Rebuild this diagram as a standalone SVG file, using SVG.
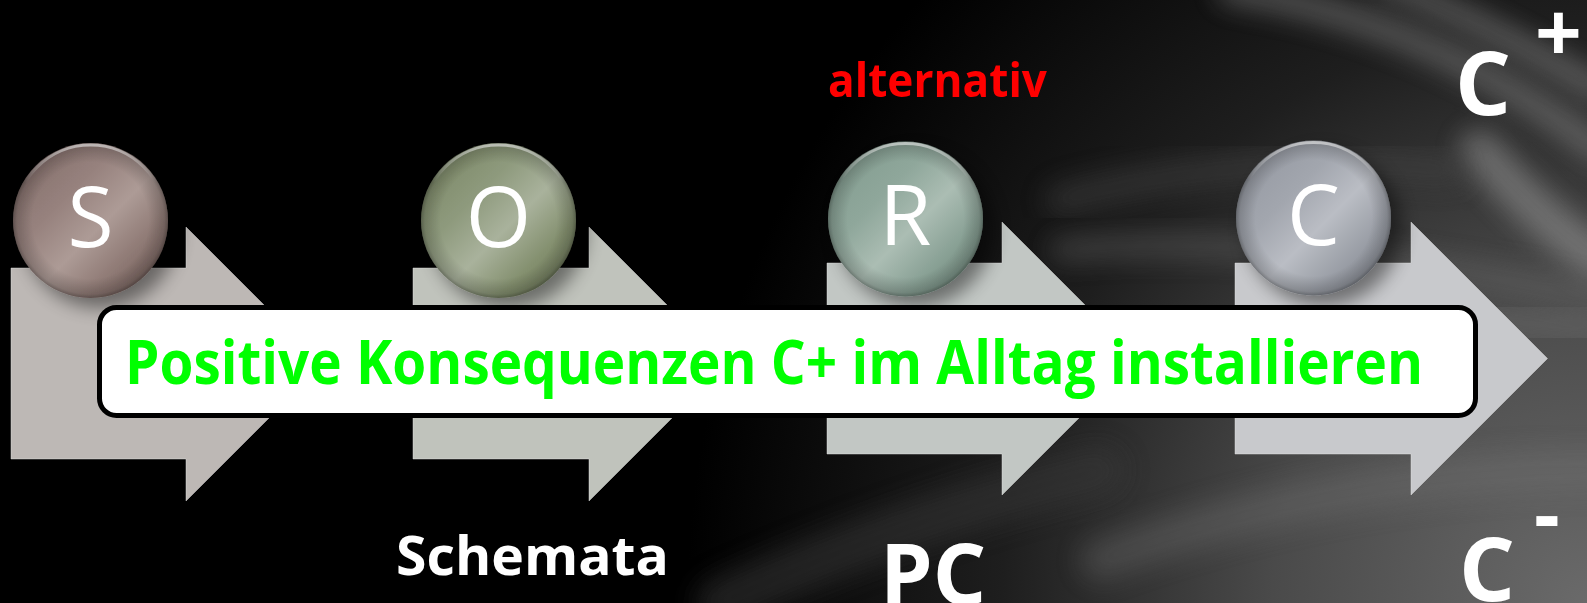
<svg xmlns="http://www.w3.org/2000/svg" width="1587" height="603" viewBox="0 0 1587 603">
  <defs>
    <style>
      .letter { font-family: "Open Sans", "Noto Sans", sans-serif; font-size: 84px; fill: #ffffff; text-anchor: middle; }
      .bold { font-family: "Open Sans", "Noto Sans", sans-serif; font-weight: 700; }
      .streak { fill: none; stroke-linecap: round; filter: url(#blurBig); }
      .arrow { stroke: #e2e2e2; stroke-opacity: 0.45; stroke-width: 1; }
    </style>
    <radialGradient id="bgGlow" cx="1587" cy="603" r="900" gradientUnits="userSpaceOnUse">
      <stop offset="0" stop-color="#6a6a6a"/>
      <stop offset="0.35" stop-color="#4a4a4a"/>
      <stop offset="0.65" stop-color="#1e1e1e"/>
      <stop offset="1" stop-color="#000000"/>
    </radialGradient>
    <filter id="blurBig" x="-50%" y="-50%" width="200%" height="200%">
      <feGaussianBlur stdDeviation="14"/>
    </filter>
    <filter id="shadow" x="-30%" y="-30%" width="170%" height="170%">
      <feGaussianBlur in="SourceAlpha" stdDeviation="9"/>
      <feOffset dx="10" dy="10" result="b"/>
      <feComponentTransfer><feFuncA type="linear" slope="0.45"/></feComponentTransfer>
      <feMerge><feMergeNode/><feMergeNode in="SourceGraphic"/></feMerge>
    </filter>
    <radialGradient id="edgeDark" cx="0.5" cy="0.5" r="0.5">
      <stop offset="0.75" stop-color="#000" stop-opacity="0"/>
      <stop offset="0.95" stop-color="#000" stop-opacity="0.18"/>
      <stop offset="1" stop-color="#000" stop-opacity="0.35"/>
    </radialGradient>
    <linearGradient id="gS" x1="0" y1="0" x2="1" y2="1">
      <stop offset="0" stop-color="#7d6864"/>
      <stop offset="0.35" stop-color="#97827e"/>
      <stop offset="0.55" stop-color="#ad9b96"/>
      <stop offset="0.75" stop-color="#8d7873"/>
      <stop offset="1" stop-color="#6a5551"/>
    </linearGradient>
    <linearGradient id="gO" x1="0" y1="0" x2="1" y2="1">
      <stop offset="0" stop-color="#76825f"/>
      <stop offset="0.35" stop-color="#8e9a7d"/>
      <stop offset="0.55" stop-color="#a9b29c"/>
      <stop offset="0.75" stop-color="#84906f"/>
      <stop offset="1" stop-color="#626c4f"/>
    </linearGradient>
    <linearGradient id="gR" x1="0" y1="0" x2="1" y2="1">
      <stop offset="0" stop-color="#7f998c"/>
      <stop offset="0.35" stop-color="#8fa79b"/>
      <stop offset="0.55" stop-color="#abbdb3"/>
      <stop offset="0.75" stop-color="#88a094"/>
      <stop offset="1" stop-color="#6a8276"/>
    </linearGradient>
    <linearGradient id="gC" x1="0" y1="0" x2="1" y2="1">
      <stop offset="0" stop-color="#90949d"/>
      <stop offset="0.35" stop-color="#a2a6ae"/>
      <stop offset="0.55" stop-color="#babdc4"/>
      <stop offset="0.75" stop-color="#9a9ea6"/>
      <stop offset="1" stop-color="#7c8089"/>
    </linearGradient>
    <linearGradient id="rim" x1="0" y1="0" x2="0" y2="1">
      <stop offset="0" stop-color="#ffffff" stop-opacity="0.55"/>
      <stop offset="0.25" stop-color="#ffffff" stop-opacity="0"/>
    </linearGradient>
  </defs>

  <!-- background -->
  <rect x="0" y="0" width="1587" height="603" fill="#000000"/>
  <rect x="0" y="0" width="1587" height="603" fill="url(#bgGlow)"/>
  <g opacity="0.9">
    <path class="streak" d="M1230,-10 Q1430,20 1600,150" stroke="#9a9a9a" stroke-width="26" opacity="0.55"/>
    <path class="streak" d="M1380,-20 Q1500,30 1600,90" stroke="#b0b0b0" stroke-width="18" opacity="0.6"/>
    <path class="streak" d="M1480,150 Q1540,220 1600,260" stroke="#a8a8a8" stroke-width="40" opacity="0.55"/>
    <path class="streak" d="M1060,250 Q1300,230 1600,300" stroke="#6a6a6a" stroke-width="20" opacity="0.6"/>
    <path class="streak" d="M1070,330 Q1300,300 1600,330" stroke="#7a7a7a" stroke-width="24" opacity="0.5"/>
    <path class="streak" d="M1060,200 Q1250,150 1450,170" stroke="#444" stroke-width="30" opacity="0.6"/>
    <path class="streak" d="M720,603 Q900,520 1100,470" stroke="#3a3a3a" stroke-width="50" opacity="0.6"/>
    <path class="streak" d="M1100,560 Q1350,470 1600,470" stroke="#777" stroke-width="40" opacity="0.4"/>
  </g>

  <!-- process arrows -->
  <g id="connectors">
    <path id="arrow-1" class="arrow" fill="#bdb8b5" d="M11,268 H186 V227 L323,364 L186,501 V459 H11 Z"/>
    <path id="arrow-2" class="arrow" fill="#c0c3bc" d="M413,268 H589 V227 L726,364 L589,501 V459 H413 Z"/>
    <path id="arrow-3" class="arrow" fill="#c2c7c4" d="M827,263 H1002 V222 L1138.5,358.5 L1002,495 V454 H827 Z"/>
    <path id="arrow-4" class="arrow" fill="#c8c9cc" d="M1235,263 H1411 V222 L1547.5,358.5 L1411,495 V454 H1235 Z"/>
  </g>

  <!-- circle nodes -->
  <g id="node-S" filter="url(#shadow)">
    <circle cx="90.5" cy="220.5" r="77.5" fill="url(#gS)"/>
    <circle cx="90.5" cy="220.5" r="77.5" fill="url(#edgeDark)"/>
    <circle cx="90.5" cy="220.5" r="75.5" fill="none" stroke="url(#rim)" stroke-width="3"/>
    <text class="letter" x="90.5" y="247">S</text>
  </g>
  <g id="node-O" filter="url(#shadow)">
    <circle cx="498.5" cy="220.5" r="77.5" fill="url(#gO)"/>
    <circle cx="498.5" cy="220.5" r="77.5" fill="url(#edgeDark)"/>
    <circle cx="498.5" cy="220.5" r="75.5" fill="none" stroke="url(#rim)" stroke-width="3"/>
    <text class="letter" x="498.5" y="247">O</text>
  </g>
  <g id="node-R" filter="url(#shadow)">
    <circle cx="905.5" cy="219" r="77.5" fill="url(#gR)"/>
    <circle cx="905.5" cy="219" r="77.5" fill="url(#edgeDark)"/>
    <circle cx="905.5" cy="219" r="75.5" fill="none" stroke="url(#rim)" stroke-width="3"/>
    <text class="letter" x="905.5" y="245">R</text>
  </g>
  <g id="node-C" filter="url(#shadow)">
    <circle cx="1313.5" cy="218" r="77.5" fill="url(#gC)"/>
    <circle cx="1313.5" cy="218" r="77.5" fill="url(#edgeDark)"/>
    <circle cx="1313.5" cy="218" r="75.5" fill="none" stroke="url(#rim)" stroke-width="3"/>
    <text class="letter" x="1313.5" y="245">C</text>
  </g>

  <!-- banner -->
  <g id="node-banner">
    <rect x="99.5" y="307.5" width="1376" height="108" rx="17" ry="17" fill="#ffffff" stroke="#000000" stroke-width="5"/>
    <text class="bold" x="125" y="384" font-size="61" fill="#00ff00" textLength="1298" lengthAdjust="spacingAndGlyphs">Positive Konsequenzen C+ im Alltag installieren</text>
  </g>

  <!-- labels -->
  <g id="label-alternativ">
    <text class="bold" x="828" y="97" font-size="46" fill="#ff0000" textLength="219" lengthAdjust="spacingAndGlyphs">alternativ</text>
  </g>
  <g id="label-schemata">
    <text class="bold" x="396" y="575" font-size="53" fill="#ffffff" textLength="273" lengthAdjust="spacingAndGlyphs">Schemata</text>
  </g>
  <g id="label-pc">
    <text class="bold" x="880" y="604" font-size="84" fill="#ffffff">PC</text>
  </g>
  <g id="label-cplus">
    <text class="bold" x="1455" y="115" font-size="88" fill="#ffffff">C</text>
    <text class="bold" x="1535" y="62" font-size="82" fill="#ffffff">+</text>
  </g>
  <g id="label-cminus">
    <text class="bold" x="1459" y="601" font-size="88" fill="#ffffff">C</text>
    <text class="bold" x="1534" y="543" font-size="80" fill="#ffffff">-</text>
  </g>
</svg>
